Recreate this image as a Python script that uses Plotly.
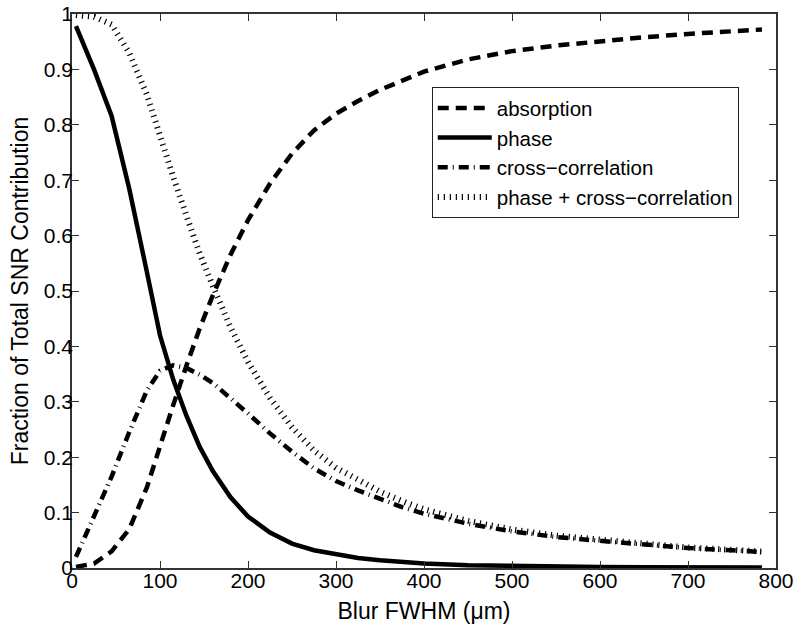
import plotly.graph_objects as go

blur_fwhm = [4.5, 25, 45, 65, 85, 100, 115, 130, 145, 160, 180, 200, 225, 250, 275,
             300, 325, 350, 375, 400, 450, 500, 550, 600, 650, 700, 750, 784]

absorption = [0.002, 0.008, 0.030, 0.070, 0.145, 0.222, 0.294, 0.365, 0.432, 0.492,
              0.565, 0.628, 0.694, 0.748, 0.790, 0.820, 0.843, 0.863, 0.880, 0.896,
              0.918, 0.933, 0.943, 0.951, 0.958, 0.964, 0.969, 0.972]

phase = [0.978, 0.900, 0.816, 0.685, 0.535, 0.420, 0.340, 0.275, 0.219, 0.175,
         0.128, 0.093, 0.064, 0.044, 0.032, 0.024, 0.018, 0.014, 0.011, 0.008,
         0.005, 0.0035, 0.0025, 0.0018, 0.0013, 0.0010, 0.0008, 0.0007]

cross_correlation = [0.020, 0.095, 0.165, 0.245, 0.320, 0.356, 0.366, 0.361, 0.349, 0.334,
                     0.307, 0.279, 0.243, 0.210, 0.180, 0.157, 0.140, 0.124, 0.110, 0.098,
                     0.080, 0.066, 0.056, 0.049, 0.042, 0.036, 0.032, 0.029]

phase_plus_cross = [0.998, 0.995, 0.981, 0.930, 0.855, 0.776, 0.706, 0.636, 0.568, 0.509,
                    0.435, 0.372, 0.307, 0.254, 0.212, 0.181, 0.158, 0.138, 0.121, 0.106,
                    0.085, 0.0695, 0.0585, 0.0508, 0.0433, 0.037, 0.0328, 0.0297]

x_ticks = [0, 100, 200, 300, 400, 500, 600, 700, 800]
y_ticks = [0, 0.1, 0.2, 0.3, 0.4, 0.5, 0.6, 0.7, 0.8, 0.9, 1]
y_tick_text = ["0", "0.1", "0.2", "0.3", "0.4", "0.5", "0.6", "0.7", "0.8", "0.9", "1"]

fig = go.Figure()
fig.add_trace(go.Scatter(x=blur_fwhm, y=absorption, mode="lines", name="absorption",
                         line=dict(color="black", width=4.5, dash="11px,7px")))
fig.add_trace(go.Scatter(x=blur_fwhm, y=phase, mode="lines", name="phase",
                         line=dict(color="black", width=4.5)))
fig.add_trace(go.Scatter(x=blur_fwhm, y=cross_correlation, mode="lines", name="cross\u2212correlation",
                         line=dict(color="black", width=4.5, dash="10px,5px,1px,5px")))
fig.add_trace(go.Scatter(x=blur_fwhm, y=phase_plus_cross, mode="lines", name="phase + cross\u2212correlation",
                         line=dict(color="black", width=6, dash="1.2px,4.8px")))

font_family = "Liberation Sans, Arial, sans-serif"
fig.update_layout(
    width=800, height=630,
    margin=dict(l=72, r=24, t=14, b=62),
    paper_bgcolor="white", plot_bgcolor="white",
    font=dict(family=font_family, color="black", size=21),
    showlegend=True,
    legend=dict(x=0.511, y=0.868, xanchor="left", yanchor="top",
                bgcolor="white", bordercolor="#222222", borderwidth=1,
                font=dict(size=20.5), tracegroupgap=0, itemwidth=54),
    xaxis=dict(range=[0, 800], tickvals=x_ticks, ticks="inside", ticklen=7,
               showline=True, linecolor="#333333", linewidth=1.5, mirror="ticks",
               tickcolor="#333333", showgrid=False, zeroline=False, automargin=False,
               tickfont=dict(size=21), ticklabelstandoff=-7, ticklabeloverflow="allow",
               title=dict(text="Blur FWHM (\u03bcm)", font=dict(size=23), standoff=12)),
    yaxis=dict(range=[0, 1], tickvals=y_ticks, ticktext=y_tick_text, ticks="inside", ticklen=7,
               showline=True, linecolor="#333333", linewidth=1.5, mirror="ticks",
               tickcolor="#333333", showgrid=False, zeroline=False, automargin=False,
               tickfont=dict(size=21), ticklabelstandoff=-7, ticklabeloverflow="allow",
               title=dict(text="Fraction of Total SNR Contribution", font=dict(size=23), standoff=9)),
)

fig.write_html("out.html", config={"displayModeBar": False},
               post_script="document.body.style.margin='0px';")
